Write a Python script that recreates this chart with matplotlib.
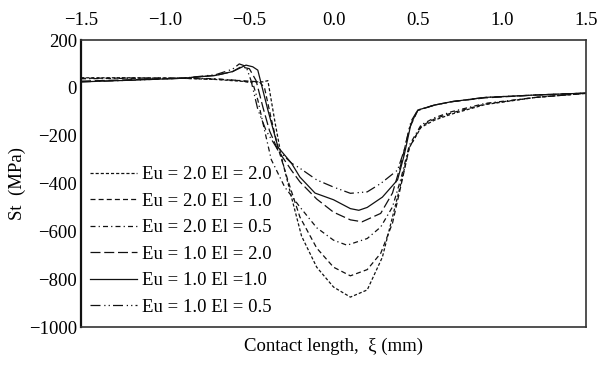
import matplotlib
matplotlib.use("Agg")
import matplotlib.pyplot as plt

plt.rcParams['font.family'] = ['Liberation Serif', 'DejaVu Serif']
plt.rcParams['mathtext.fontset'] = 'stix'

labels = ["Eu = 2.0 El = 2.0", "Eu = 2.0 El = 1.0", "Eu = 2.0 El = 0.5",
          "Eu = 1.0 El = 2.0", "Eu = 1.0 El =1.0", "Eu = 1.0 El = 0.5"]

x1 = [-1.5, -1.2, -0.9, -0.7, -0.5, -0.42, -0.39, -0.35, -0.31, -0.25, -0.19, -0.1, 0.0, 0.1, 0.2, 0.29, 0.35, 0.4, 0.45, 0.52, 0.6, 0.7, 0.9, 1.2, 1.5]
y1 = [42, 42, 40, 35, 25, 25, 30, -135, -288, -457, -620, -750, -833, -875, -845, -708, -540, -400, -250, -165, -135, -110, -70, -40, -23]

x2 = [-1.5, -1.2, -0.9, -0.7, -0.5, -0.44, -0.41, -0.37, -0.33, -0.27, -0.2, -0.1, 0.0, 0.1, 0.2, 0.28, 0.35, 0.4, 0.45, 0.52, 0.6, 0.7, 0.9, 1.2, 1.5]
y2 = [40, 41, 40, 36, 28, 25, 0, -130, -250, -390, -540, -670, -750, -786, -760, -692, -566, -410, -250, -160, -130, -105, -68, -40, -23]

x3 = [-1.5, -1.2, -0.9, -0.7, -0.55, -0.48, -0.45, -0.41, -0.37, -0.29, -0.2, -0.1, 0.0, 0.08, 0.2, 0.28, 0.35, 0.4, 0.45, 0.52, 0.6, 0.7, 0.9, 1.2, 1.5]
y3 = [38, 40, 41, 38, 30, 20, -50, -177, -300, -415, -498, -585, -637, -658, -630, -582, -498, -380, -240, -155, -125, -100, -65, -40, -23]

x4 = [-1.5, -1.2, -0.9, -0.7, -0.6, -0.55, -0.5, -0.46, -0.42, -0.38, -0.33, -0.25, -0.2, -0.1, 0.0, 0.1, 0.17, 0.28, 0.35, 0.4, 0.45, 0.5, 0.6, 0.7, 0.9, 1.2, 1.5]
y4 = [28, 34, 40, 52, 68, 88, 80, 30, -80, -180, -262, -345, -393, -465, -520, -552, -560, -525, -440, -320, -170, -95, -72, -58, -42, -30, -22]

x5 = [-1.5, -1.2, -0.9, -0.7, -0.6, -0.52, -0.48, -0.45, -0.39, -0.33, -0.25, -0.2, -0.11, 0.0, 0.1, 0.15, 0.2, 0.29, 0.38, 0.42, 0.46, 0.5, 0.6, 0.7, 0.9, 1.2, 1.5]
y5 = [25, 32, 40, 52, 68, 95, 88, 74, -93, -248, -315, -373, -440, -468, -505, -512, -500, -457, -385, -280, -150, -93, -72, -58, -40, -30, -22]

x6 = [-1.5, -1.2, -0.9, -0.7, -0.6, -0.56, -0.52, -0.49, -0.45, -0.4, -0.33, -0.25, -0.2, -0.1, 0.0, 0.1, 0.2, 0.28, 0.38, 0.42, 0.46, 0.5, 0.6, 0.7, 0.9, 1.2, 1.5]
y6 = [25, 32, 40, 55, 78, 100, 90, 30, -90, -180, -260, -315, -336, -385, -415, -441, -435, -400, -344, -260, -140, -93, -72, -58, -40, -30, -22]

xticks = [-1.5, -1.0, -0.5, 0.0, 0.5, 1.0, 1.5]
xticklabels = ["\u22121.5", "\u22121.0", "\u22120.5", "0.0", "0.5", "1.0", "1.5"]
yticks = [200, 0, -200, -400, -600, -800, -1000]
yticklabels = ["200", "0", "\u2212200", "\u2212400", "\u2212600", "\u2212800", "\u22121000"]

styles = [(0, (2.5, 1.6)), (0, (4, 2.5)), (0, (4, 2.5, 1, 2.5)),
          (0, (8, 3)), '-', (0, (8, 3, 1, 2.5, 1, 2.5))]

fig = plt.figure(figsize=(6.01, 3.65), dpi=100)
ax = fig.add_axes([0.1348, 0.1041, 0.8404, 0.7863])

series = [(x1, y1), (x2, y2), (x3, y3), (x4, y4), (x5, y5), (x6, y6)]
for (xs, ys), ls, lab in zip(series, styles, labels):
    ax.plot(xs, ys, color='#111111', lw=0.9, linestyle=ls, label=lab)

ax.set_xlim(-1.5, 1.5)
ax.set_ylim(-1000, 200)
ax.xaxis.tick_top()
ax.set_xticks(xticks)
ax.set_xticklabels(xticklabels)
ax.set_yticks(yticks)
ax.set_yticklabels(yticklabels)
ax.tick_params(axis='x', length=0, labelsize=13.5, pad=8)
ax.tick_params(axis='y', length=0, labelsize=13.5, pad=3)
for s in ax.spines.values():
    s.set_linewidth(1.2)
    s.set_color('#333333')
ax.spines['left'].set_color('#111111')
ax.spines['left'].set_linewidth(1.6)

ax.set_xlabel("Contact length,  \u03be (mm)", fontsize=13.5, labelpad=8)
ax.set_ylabel("St  (MPa)", fontsize=13.5, labelpad=2)

leg = ax.legend(loc='upper left', bbox_to_anchor=(-0.005, 0.60), frameon=False,
                fontsize=13.5, handlelength=2.5, handletextpad=0.3,
                labelspacing=0.5, borderaxespad=0.2)

fig.savefig("out.png", dpi=100)
